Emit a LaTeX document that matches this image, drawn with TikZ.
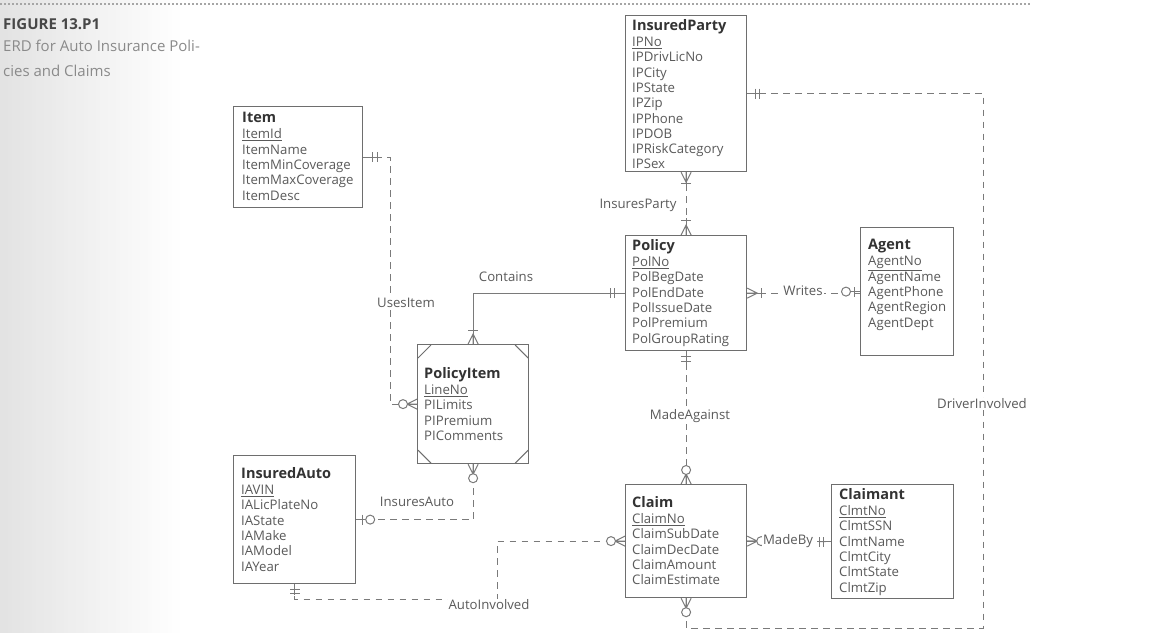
\documentclass[tikz,border=0pt]{standalone}
\usepackage{fontspec}
\setmainfont{Open Sans}
\usetikzlibrary{calc}
\definecolor{txt}{HTML}{5A5A5A}
\definecolor{ttl}{HTML}{333333}
\definecolor{boxc}{HTML}{6E6E6E}
\definecolor{linec}{HTML}{7A7A7A}
\definecolor{capg}{HTML}{8A8A8A}
\newcommand\ttl[1]{{\fontsize{14.5}{15.3}\selectfont\bfseries\color{ttl}#1}}
\newcommand\keyattr[1]{\underline{#1}}
\newcommand\crowfoot[2]{\begin{scope}[shift={(#1)},rotate=#2]\draw[sym] (0,-5)--(10,0)--(0,5) (0,0)--(10,0);\end{scope}}
\newcommand\onebar[3]{\begin{scope}[shift={(#1)},rotate=#2]\draw[sym] (#3,-5)--(#3,5) (0,0)--(#3+2,0);\end{scope}}
\newcommand\zerocirc[3]{\begin{scope}[shift={(#1)},rotate=#2]\draw[sym] (0,0)--(#3-4,0);\draw[sym,fill=white] (#3,0) circle[radius=4.5];\end{scope}}
\begin{document}
\begin{tikzpicture}[x=1pt,y=-1pt,
  entbox/.style={draw=boxc,line width=1.2pt,anchor=north west,inner sep=0pt,fill=white},
  attrs/.style={anchor=north west,inner sep=0pt,align=left,text=txt,font=\fontsize{13.2}{15.3}\selectfont},
  conn/.style={draw=linec,line width=1pt,dash pattern=on 6.5pt off 5.5pt},
  solidconn/.style={draw=linec,line width=1pt},
  sym/.style={draw=linec,line width=1pt,solid},
  rlabel/.style={text=txt,font=\fontsize{13.2}{15}\selectfont,inner sep=1pt},
  wlabel/.style={rlabel,fill=white}]
\useasboundingbox (0,0) rectangle (1175,633);
\foreach \i in {0,...,44} {
  \pgfmathsetmacro\shadeamt{11*(1-\i/45)}
  \fill[black!\shadeamt] (\i*4,0) rectangle (\i*4+4.3,633);
}
\draw[draw=black!35,line width=1.6pt,dash pattern=on 1.6pt off 2.4pt] (0,4) -- (1030,4);
\node[anchor=west,inner sep=0pt,text=ttl!90,font=\fontsize{15}{15}\selectfont\bfseries] (figt) at (3,24) {FIGURE 13.P1};
\node[anchor=north west,inner sep=0pt,text=capg,align=left,font=\fontsize{15}{22}\selectfont] (figc) at (3,40) {ERD for Auto Insurance Poli-\\[3pt]cies and Claims};

% entity boxes
\node[entbox,minimum width=129,minimum height=101] (item) at (233,106) {};
\node[entbox,minimum width=121,minimum height=156] (ip) at (625,15) {};
\node[entbox,minimum width=121,minimum height=115] (pol) at (625,235) {};
\node[entbox,minimum width=93,minimum height=128] (ag) at (860,227) {};
\node[entbox,minimum width=111,minimum height=119] (pi) at (417,344) {};
\node[entbox,minimum width=122,minimum height=128] (ia) at (233,455) {};
\node[entbox,minimum width=121,minimum height=113] (cl) at (625,484) {};
\node[entbox,minimum width=122,minimum height=114] (cm) at (831,484) {};

% associative corners
\draw[draw=boxc,line width=1pt] ($(pi.north west)+(1,14)$) -- ($(pi.north west)+(14,1)$)
  ($(pi.north east)+(-1,14)$) -- ($(pi.north east)+(-14,1)$)
  ($(pi.south west)+(1,-14)$) -- ($(pi.south west)+(14,-1)$)
  ($(pi.south east)+(-1,-14)$) -- ($(pi.south east)+(-14,-1)$);

% attributes
\node[attrs] (itemt) at (242,112) {\ttl{Item}\\[1pt]\keyattr{ItemId}\\ItemName\\ItemMinCoverage\\ItemMaxCoverage\\ItemDesc};
\node[attrs] (ipt) at (632,19) {\ttl{InsuredParty}\\[1pt]\keyattr{IPNo}\\IPDrivLicNo\\IPCity\\IPState\\IPZip\\IPPhone\\IPDOB\\IPRiskCategory\\IPSex};
\node[attrs] (polt) at (632,239) {\ttl{Policy}\\[1pt]\keyattr{PolNo}\\PolBegDate\\PolEndDate\\PolIssueDate\\PolPremium\\PolGroupRating};
\node[attrs] (agt) at (868,239) {\ttl{Agent}\\[1pt]\keyattr{AgentNo}\\AgentName\\AgentPhone\\AgentRegion\\AgentDept};
\node[attrs] (pit) at (424,367) {\ttl{PolicyItem}\\[1pt]\keyattr{LineNo}\\PILimits\\PIPremium\\PIComments};
\node[attrs] (iat) at (241,467) {\ttl{InsuredAuto}\\[1pt]\keyattr{IAVIN}\\IALicPlateNo\\IAState\\IAMake\\IAModel\\IAYear};
\node[attrs] (clt) at (632,496) {\ttl{Claim}\\[1pt]\keyattr{ClaimNo}\\ClaimSubDate\\ClaimDecDate\\ClaimAmount\\ClaimEstimate};
\node[attrs] (cmt) at (839,488) {\ttl{Claimant}\\[1pt]\keyattr{ClmtNo}\\ClmtSSN\\ClmtName\\ClmtCity\\ClmtState\\ClmtZip};

% connectors
\draw[conn] (ip.south) -- (pol.north);
\draw[solidconn] (pol.west) -| (pi.north);
\draw[conn] (item.east) -| ($(pi.west)+(-27,0)$) -- (pi.west);
\draw[conn] (pol.east) -- (pol.east -| ag.west);
\draw[conn] (pol.south) -- (cl.north);
\draw[conn] (pi.south) |- (ia.east);
\draw[conn] (ia.south) -- ++(0,15) -| ($(cl.west)+(-128,0)$) -- (cl.west);
\draw[conn] (cl.east) -- (cm.west);
\draw[conn] (ip.east) -| ($(cl.south)+(297,30)$) -| (cl.south);

% cardinality symbols
\crowfoot{ip.south}{-90}\onebar{ip.south}{-90}{11}
\crowfoot{pol.north}{90}\onebar{pol.north}{90}{15}
\onebar{pol.west}{180}{11}\onebar{pol.west}{180}{15}
\crowfoot{pi.north}{90}\onebar{pi.north}{90}{14}
\onebar{item.east}{0}{9}\onebar{item.east}{0}{14}
\crowfoot{pi.west}{180}\zerocirc{pi.west}{180}{14}
\crowfoot{pol.east}{0}\onebar{pol.east}{0}{14}
\onebar{ag.west}{180}{6}\zerocirc{ag.west}{180}{14}
\onebar{pol.south}{-90}{5}\onebar{pol.south}{-90}{10}
\crowfoot{cl.north}{90}\zerocirc{cl.north}{90}{14}
\crowfoot{pi.south}{-90}\zerocirc{pi.south}{-90}{14}
\onebar{ia.east}{0}{6}\zerocirc{ia.east}{0}{14}
\onebar{ia.south}{-90}{5}\onebar{ia.south}{-90}{9}
\crowfoot{cl.west}{180}\zerocirc{cl.west}{180}{14}
\crowfoot{cl.east}{0}\zerocirc{cl.east}{0}{14}
\onebar{cm.west}{180}{8}\onebar{cm.west}{180}{12}
\onebar{ip.east}{0}{8}\onebar{ip.east}{0}{12}
\crowfoot{cl.south}{-90}\zerocirc{cl.south}{-90}{14}

% relationship labels
\node[rlabel] (l1) at (638,205) {InsuresParty};
\node[rlabel] (l2) at (506,277) {Contains};
\node[wlabel] (l3) at (406,303) {UsesItem};
\node[wlabel] (l4) at (803,291) {Writes};
\node[wlabel] (l5) at (690,416) {MadeAgainst};
\node[rlabel] (l6) at (417,502) {InsuresAuto};
\node[wlabel] (l7) at (489,605) {AutoInvolved};
\node[wlabel] (l8) at (788,541) {MadeBy};
\node[wlabel] (l9) at (982,404) {DriverInvolved};
\end{tikzpicture}
\end{document}
